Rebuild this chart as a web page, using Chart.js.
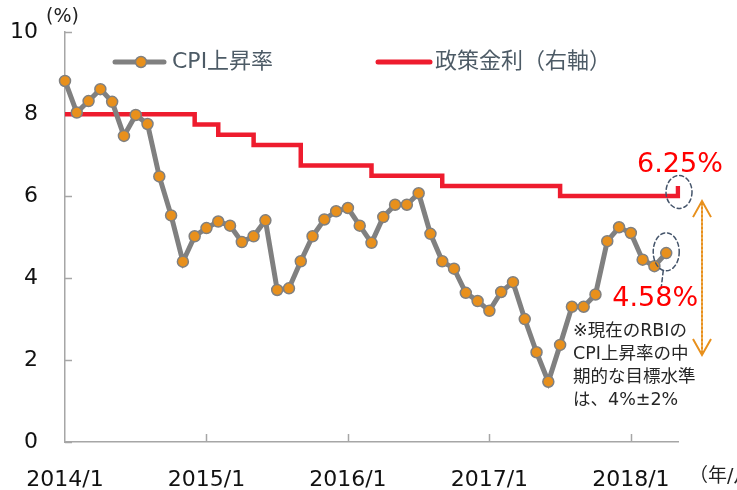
<!DOCTYPE html>
<html>
<head>
<meta charset="utf-8">
<script src="https://cdn.jsdelivr.net/npm/chart.js@4"></script>
<style>
  html, body { margin: 0; padding: 0; background: #fff; }
  #wrap { width: 737px; height: 490px; }
</style>
</head>
<body>
<div id="wrap"><canvas id="myChart" width="737" height="490"></canvas></div>
<script>
const FONT = "'DejaVu Sans', 'Noto Sans CJK JP', sans-serif";

// 2014/1 .. 2018/5
const labels = [];
for (let y = 2014; y <= 2018; y++) {
  for (let m = 1; m <= 12; m++) {
    if (y === 2018 && m > 5) break;
    labels.push(y + '/' + m);
  }
}

// CPI上昇率 (%), 2014/1 .. 2018/4
const cpi = [
  8.81, 8.04, 8.32, 8.61, 8.30, 7.47, 7.98, 7.76, 6.48, 5.53, 4.40, 5.02,
  5.22, 5.38, 5.28, 4.88, 5.02, 5.41, 3.71, 3.75, 4.41, 5.02, 5.43, 5.63,
  5.71, 5.28, 4.86, 5.49, 5.79, 5.79, 6.07, 5.08, 4.41, 4.23, 3.64, 3.44,
  3.20, 3.66, 3.90, 3.00, 2.19, 1.47, 2.37, 3.30, 3.30, 3.60, 4.90, 5.24,
  5.10, 4.45, 4.29, 4.61
];

// 政策金利 (%), 2014/1 .. 2018/5
const policy = [
  8, 8, 8, 8, 8, 8, 8, 8, 8, 8, 8, 7.75,
  7.75, 7.5, 7.5, 7.5, 7.25, 7.25, 7.25, 7.25, 6.75, 6.75, 6.75, 6.75,
  6.75, 6.75, 6.5, 6.5, 6.5, 6.5, 6.5, 6.5, 6.25, 6.25, 6.25, 6.25,
  6.25, 6.25, 6.25, 6.25, 6.25, 6.25, 6, 6, 6, 6, 6, 6,
  6, 6, 6, 6, 6.25
];

const yTicks = [0, 2, 4, 6, 8, 10];
const note = ['※現在のRBIの', 'CPI上昇率の中', '期的な目標水準', 'は、4%±2%'];

const GRAY = '#808080';
const ORANGE = '#E8901C';
const RED = '#EE1C2E';
const AXIS = '#A6A6A6';
const SLATE = '#44546A';

function ellipse(ctx, cx, cy, rx, ry) {
  ctx.save();
  ctx.strokeStyle = SLATE;
  ctx.lineWidth = 1.5;
  ctx.setLineDash([4, 3]);
  ctx.beginPath();
  ctx.ellipse(cx, cy, rx, ry, 0, 0, Math.PI * 2);
  ctx.stroke();
  ctx.restore();
}

const extras = {
  id: 'extras',
  beforeDatasetsDraw(chart) {
    const { ctx, chartArea: a, scales: { x, y } } = chart;
    ctx.save();
    ctx.strokeStyle = AXIS;
    ctx.lineWidth = 1.5;
    ctx.beginPath();
    yTicks.forEach(v => {
      const py = Math.round(y.getPixelForValue(v)) + 0.5;
      ctx.moveTo(a.left, py);
      ctx.lineTo(a.left + 7, py);
    });
    labels.forEach((l, i) => {
      if (i > 0 && i % 12 === 0) {
        const px = Math.round(x.getPixelForValue(i)) + 0.5;
        ctx.moveTo(px, a.bottom);
        ctx.lineTo(px, a.bottom - 8);
      }
    });
    ctx.stroke();
    ctx.restore();
  },
  afterDraw(chart) {
    const { ctx, chartArea: a, scales: { x, y } } = chart;
    ctx.save();

    // unit labels
    ctx.fillStyle = '#222';
    ctx.font = '19px ' + FONT;
    ctx.textBaseline = 'middle';
    ctx.textAlign = 'left';
    ctx.fillText('(%)', 46, 17);
    ctx.fillText('（年/月）', 689, 477);

    // legend
    const ly = 62;
    ctx.lineCap = 'round';
    ctx.strokeStyle = GRAY;
    ctx.lineWidth = 5;
    ctx.beginPath(); ctx.moveTo(115, ly); ctx.lineTo(164, ly); ctx.stroke();
    ctx.fillStyle = ORANGE;
    ctx.strokeStyle = GRAY;
    ctx.lineWidth = 1.5;
    ctx.beginPath(); ctx.arc(141, ly, 5.5, 0, Math.PI * 2); ctx.fill(); ctx.stroke();
    ctx.strokeStyle = RED;
    ctx.lineWidth = 5;
    ctx.beginPath(); ctx.moveTo(378, ly); ctx.lineTo(430, ly); ctx.stroke();
    ctx.fillStyle = '#4D5B66';
    ctx.font = '22px ' + FONT;
    ctx.fillText('CPI上昇率', 172, ly);
    ctx.fillText('政策金利（右軸）', 435, ly);

    // highlights
    const xl = x.getPixelForValue(policy.length - 1);
    const xc = x.getPixelForValue(cpi.length - 1);
    ellipse(ctx, xl + 1, y.getPixelForValue(6.1), 13, 16.5);
    ellipse(ctx, xc, y.getPixelForValue(4.64), 13, 19);
    ctx.strokeStyle = SLATE;
    ctx.lineWidth = 1.5;
    ctx.setLineDash([4, 3]);
    ctx.beginPath();
    ctx.moveTo(xc - 3, y.getPixelForValue(4.64) + 19);
    ctx.lineTo(xc - 5, y.getPixelForValue(4.64) + 36);
    ctx.stroke();
    ctx.setLineDash([]);

    ctx.fillStyle = '#FF0000';
    ctx.font = '27px ' + FONT;
    ctx.textAlign = 'center';
    ctx.fillText('6.25%', xl + 2, 165);
    ctx.fillText('4.58%', xc - 11, 299);

    // target band arrow 2%..6%
    const ax = 702;
    const top = y.getPixelForValue(6) + 5;
    const bot = y.getPixelForValue(2) - 5;
    ctx.strokeStyle = ORANGE;
    ctx.lineWidth = 2;
    ctx.setLineDash([2, 2]);
    ctx.beginPath(); ctx.moveTo(ax, top + 2); ctx.lineTo(ax, bot - 2); ctx.stroke();
    ctx.setLineDash([]);
    ctx.lineCap = 'butt';
    ctx.beginPath();
    ctx.moveTo(ax - 9, top + 16); ctx.lineTo(ax, top); ctx.lineTo(ax + 9, top + 16);
    ctx.moveTo(ax - 9, bot - 16); ctx.lineTo(ax, bot); ctx.lineTo(ax + 9, bot - 16);
    ctx.stroke();

    // note
    ctx.fillStyle = '#262626';
    ctx.font = '17.5px ' + FONT;
    ctx.textAlign = 'left';
    note.forEach((t, i) => ctx.fillText(t, 573, 331 + i * 23.3));

    ctx.restore();
  }
};

const myChart = new Chart(document.getElementById('myChart'), {
  type: 'line',
  data: {
    labels,
    datasets: [
      {
        label: 'CPI上昇率',
        data: cpi,
        borderColor: GRAY,
        borderWidth: 5,
        pointRadius: 5.5,
        pointBorderWidth: 1.5,
        pointBackgroundColor: ORANGE,
        pointBorderColor: GRAY,
        tension: 0
      },
      {
        label: '政策金利（右軸）',
        data: policy,
        borderColor: RED,
        borderWidth: 4.5,
        pointRadius: 0,
        stepped: true
      }
    ]
  },
  options: {
    responsive: false,
    animation: false,
    layout: { padding: { left: 5, top: 27, right: 59, bottom: 0 } },
    plugins: {
      legend: { display: false },
      tooltip: { enabled: false }
    },
    scales: {
      x: {
        offset: false,
        grid: { display: false },
        border: { color: AXIS, width: 1.5 },
        afterFit: s => { s.height = 48; },
        ticks: {
          autoSkip: false,
          maxRotation: 0,
          padding: 17,
          color: '#111',
          font: { family: FONT, size: 22 },
          callback: (v, i) => (i % 12 === 0 ? labels[i] : '')
        }
      },
      y: {
        min: 0,
        max: 10,
        grid: { display: false },
        border: { color: AXIS, width: 1.5 },
        afterFit: s => { s.width = 60; },
        ticks: {
          stepSize: 2,
          padding: 19,
          color: '#111',
          font: { family: FONT, size: 22 }
        }
      }
    }
  },
  plugins: [extras]
});
</script>
</body>
</html>
